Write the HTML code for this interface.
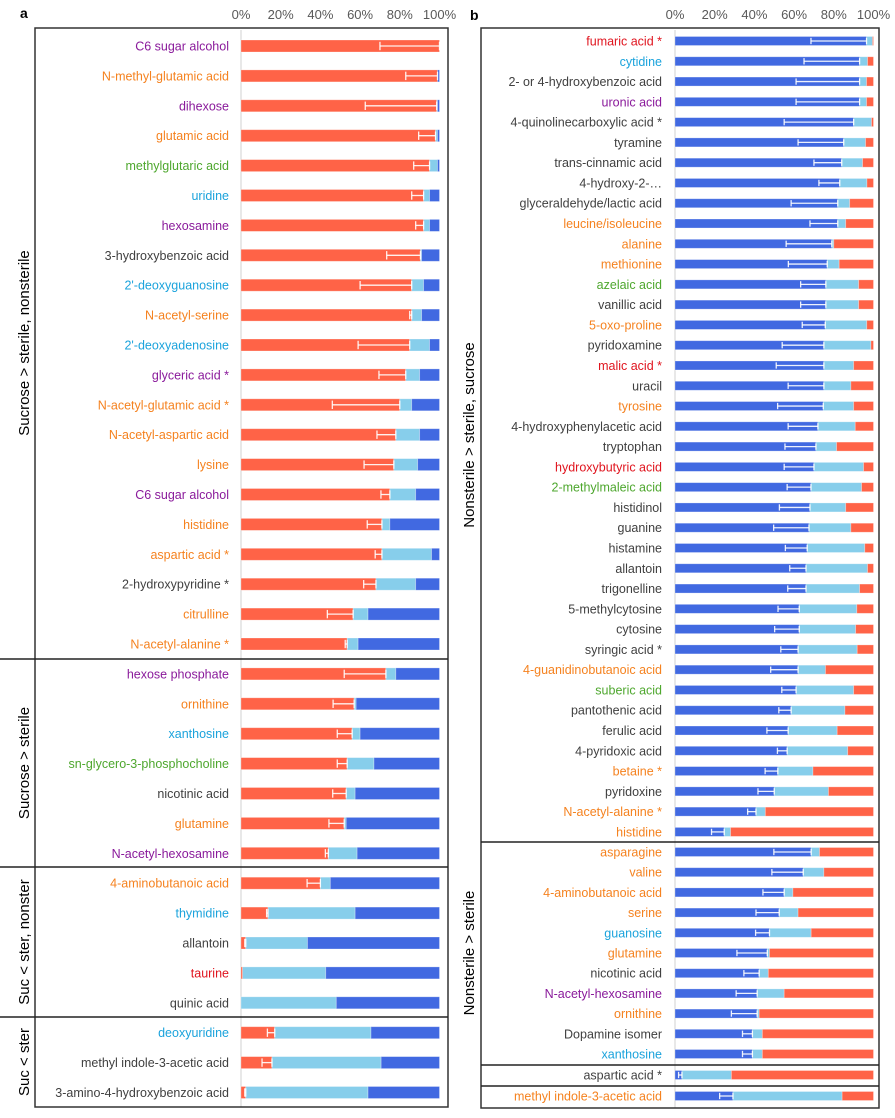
<!DOCTYPE html>
<html><head><meta charset="utf-8"><style>
html,body{margin:0;padding:0;background:#fff;}
svg{display:block;font-family:"Liberation Sans",Arial,sans-serif;}
</style></head><body>
<svg id="chart" width="895" height="1118" viewBox="0 0 895 1118" xmlns="http://www.w3.org/2000/svg"></svg>
<script>
// ---------- Panel a data ----------
const aLabels=["C6 sugar alcohol","N-methyl-glutamic acid","dihexose","glutamic acid","methylglutaric acid","uridine","hexosamine","3-hydroxybenzoic acid","2'-deoxyguanosine","N-acetyl-serine","2'-deoxyadenosine","glyceric acid *","N-acetyl-glutamic acid *","N-acetyl-aspartic acid","lysine","C6 sugar alcohol","histidine","aspartic acid *","2-hydroxypyridine *","citrulline","N-acetyl-alanine *","hexose phosphate","ornithine","xanthosine","sn-glycero-3-phosphocholine","nicotinic acid","glutamine","N-acetyl-hexosamine","4-aminobutanoic acid","thymidine","allantoin","taurine","quinic acid","deoxyuridine","methyl indole-3-acetic acid","3-amino-4-hydroxybenzoic acid"];
const aClass=["p","o","p","o","g","c","p","k","c","o","c","p","o","o","o","p","o","o","k","o","o","p","o","c","g","k","o","p","o","c","k","r","k","c","k","k"];
const aGroup=[0,0,0,0,0,0,0,0,0,0,0,0,0,0,0,0,0,0,0,0,0,1,1,1,1,1,1,1,2,2,2,2,2,3,3,3];
const aRed=[100,99,98.6,98,95,92,92,90.4,86,86,85,83,80,78,77,75,71,71,68,56.5,53.5,73,57,56,53.5,53,52,44,40,13.6,2.4,0.8,0,17,15.6,2.4];
const aLight=[0,0,0.4,1,4,3,3,0.6,6,5,10,7,6,12,12,13,4,25,20,7.5,5.5,5,1,4,13.5,4.5,1,14.5,5,43.9,31.1,41.9,48,48.5,55,61.6];
const aErr=[30,16,36,8.5,8,6,4,17,26,1,26,13.5,34,9.5,15,4.5,7.4,3.4,6.2,13,1,21,10.6,7.5,5,6.8,7.7,1.5,6.7,0.7,0.5,0.3,0,3.7,5,0.5];
const aGroupNames=["Sucrose > sterile, nonsterile","Sucrose > sterile","Suc < ster, nonster","Suc < ster"];
// ---------- Panel b data ----------
const bLabels=["fumaric acid *","cytidine","2- or 4-hydroxybenzoic acid","uronic acid","4-quinolinecarboxylic acid *","tyramine","trans-cinnamic acid","4-hydroxy-2-…","glyceraldehyde/lactic acid","leucine/isoleucine","alanine","methionine","azelaic acid","vanillic acid","5-oxo-proline","pyridoxamine","malic acid *","uracil","tyrosine","4-hydroxyphenylacetic acid","tryptophan","hydroxybutyric acid","2-methylmaleic acid","histidinol","guanine","histamine","allantoin","trigonelline","5-methylcytosine","cytosine","syringic acid *","4-guanidinobutanoic acid","suberic acid","pantothenic acid","ferulic acid","4-pyridoxic acid","betaine *","pyridoxine","N-acetyl-alanine *","histidine","asparagine","valine","4-aminobutanoic acid","serine","guanosine","glutamine","nicotinic acid","N-acetyl-hexosamine","ornithine","Dopamine isomer","xanthosine","aspartic acid *","methyl indole-3-acetic acid"];
const bClass=["r","c","k","p","k","k","k","k","k","o","o","o","g","k","o","k","r","k","o","k","k","r","g","k","k","k","k","k","k","k","k","o","g","k","k","k","o","k","o","o","o","o","o","o","c","o","k","p","o","k","c","k","o"];
const bGroup=[0,0,0,0,0,0,0,0,0,0,0,0,0,0,0,0,0,0,0,0,0,0,0,0,0,0,0,0,0,0,0,0,0,0,0,0,0,0,0,0,1,1,1,1,1,1,1,1,1,1,1,2,3];
const bBlue=[96.5,93,93,93,90,85,84,83,82,82,79,76.7,76,76,75.7,75,75,75,74.7,72,71,70,68.5,68,67.5,66.6,66,66,62.6,62.6,62,62,61,58.5,57,56.5,51.8,50,40.8,24.8,68.6,64.6,55,52.5,47.6,46.5,42.4,41.4,41.4,39,39,3.5,29.2];
const bLight=[3,4,3.5,3.5,9,11,10.5,13.7,6,4,1,6,16.5,16.5,20.9,23.7,15,13.6,15.3,18.8,10.4,25,25.5,18,21.1,29,31,27,29,28.4,29.8,13.8,29,27.1,24.7,30.5,17.7,27.3,4.7,3.2,4.2,10.4,4.4,9.5,21,1.1,4.6,13.6,1,5,5,24.9,55];
const bErr=[28,28,32,32,35,23,14,10.5,23.5,14,23,19.6,12.7,12.7,11.6,21,24,18,23,15,15.6,15,12,15.4,17.8,11,8.2,9.2,10.7,12.4,8.7,13.8,7.2,6.2,10.7,4.9,6.4,8.2,4.2,6.4,18.8,15.8,10.7,11.7,7,15.3,7.7,10.6,13,5,5,1.7,6.7];
const bGroupNames=["Nonsterile > sterile, sucrose","Nonsterile > sterile"];
const ticks=["0%","20%","40%","60%","80%","100%"];
const tickVals=[0,20,40,60,80,100];

const COL={p:"#8a1a9b",o:"#f5821f",g:"#4ea72e",c:"#1ba3dc",k:"#404040",r:"#e0141e"};
const RED="#ff6347",LB="#87ceeb",BL="#4169e1";
const NS="http://www.w3.org/2000/svg";
const svg=document.getElementById("chart");
function mk(tag,attrs,parent){const e=document.createElementNS(NS,tag);for(const k in attrs)e.setAttribute(k,attrs[k]);(parent||svg).appendChild(e);return e;}

// scales
const xa=v=>241+v*1.985;
const xb=v=>675+v*1.985;
const yaStart=[46,46,46,46];
const ya=i=>46+i*29.9;
const bStart=[41,852,1075,1096],bStep=[20.28,20.2,20,20];
const bFirst=[0,40,51,52];
const yb=i=>bStart[bGroup[i]]+(i-bFirst[bGroup[i]])*bStep[bGroup[i]];

// panel letters
let t=mk("text",{x:20,y:18,"font-size":14,"font-weight":"bold",fill:"#000"});t.textContent="a";


t=mk("text",{x:470,y:20,"font-size":14,"font-weight":"bold",fill:"#000"});t.textContent="b";



// tick labels
tickVals.forEach((v,i)=>{
  let e=mk("text",{x:xa(v),y:19,"font-size":13,fill:"#595959","text-anchor":"middle"});e.textContent=ticks[i];
  
  
  e=mk("text",{x:xb(v),y:19,"font-size":13,fill:"#595959","text-anchor":"middle"});e.textContent=ticks[i];
  
  
});

// zero axis lines
let ax=mk("line",{x1:xa(0),y1:30,x2:xa(0),y2:1107,stroke:"#d9d9d9","stroke-width":1.2});


ax=mk("line",{x1:xb(0),y1:30,x2:xb(0),y2:1108,stroke:"#d9d9d9","stroke-width":1.2});



function seg(x0,x1,y,h,fill,name){
  if(x1-x0<=0.05)return;
  const r=mk("rect",{x:x0,y:y-h/2,width:x1-x0,height:h,fill:fill,stroke:"#fff","stroke-opacity":0.35,"stroke-width":0.8});
  
  
}
function err(x0,x1,y,h){
  if(x1-x0<0.8)return;
  const g=mk("g",{stroke:"#fff","stroke-width":1.3,"stroke-opacity":0.9});
  
  
  mk("line",{x1:x0,y1:y,x2:x1,y2:y},g);
  mk("line",{x1:x0,y1:y-h*0.35,x2:x0,y2:y+h*0.35},g);
  mk("line",{x1:x1,y1:y-h*0.35,x2:x1,y2:y+h*0.35},g);
}

// panel a
aLabels.forEach((lab,i)=>{
  const y=ya(i);
  const e=mk("text",{x:229,y:y+4.5,"font-size":12.5,fill:COL[aClass[i]],"text-anchor":"end"});e.textContent=lab;
  
  
  const r=aRed[i],l=aLight[i];
  seg(xa(0),xa(r),y,12,RED,'a-bar-red');
  seg(xa(r),xa(r+l),y,12,LB,'a-bar-lightblue');
  seg(xa(r+l),xa(100),y,12,BL,'a-bar-blue');
  err(xa(r-aErr[i]),xa(r),y,12);
});
// panel b
bLabels.forEach((lab,i)=>{
  const y=yb(i);
  const e=mk("text",{x:662,y:y+4.5,"font-size":12.5,fill:COL[bClass[i]],"text-anchor":"end"});e.textContent=lab;
  
  
  const b=bBlue[i],l=bLight[i];
  seg(xb(0),xb(b),y,9,BL,'b-bar-blue');
  seg(xb(b),xb(b+l),y,9,LB,'b-bar-lightblue');
  seg(xb(b+l),xb(100),y,9,RED,'b-bar-red');
  err(xb(b-bErr[i]),xb(b),y,9);
});

// boxes
const boxA=mk("rect",{x:35,y:28,width:413,height:1079,fill:"none",stroke:"#333","stroke-width":1.5});


const boxB=mk("rect",{x:481,y:28,width:398,height:1080,fill:"none",stroke:"#333","stroke-width":1.5});


[659,867,1017].forEach(y=>{
  const l=mk("line",{x1:0,y1:y,x2:448,y2:y,stroke:"#222","stroke-width":1.5});
  
  
});
[842,1065,1086].forEach(y=>{
  const l=mk("line",{x1:481,y1:y,x2:879,y2:y,stroke:"#222","stroke-width":1.5});
  
  
});
// group labels
const aCenters=[343,763,942,1062];
aGroupNames.forEach((n,i)=>{
  const e=mk("text",{x:0,y:0,"font-size":15,fill:"#000","text-anchor":"middle",transform:`translate(29,${aCenters[i]}) rotate(-90)`});e.textContent=n;
  
  
});
const bCenters=[435,953];
bGroupNames.forEach((n,i)=>{
  const e=mk("text",{x:0,y:0,"font-size":15,fill:"#000","text-anchor":"middle",transform:`translate(474,${bCenters[i]}) rotate(-90)`});e.textContent=n;
  
  
});
</script>
</body></html>
